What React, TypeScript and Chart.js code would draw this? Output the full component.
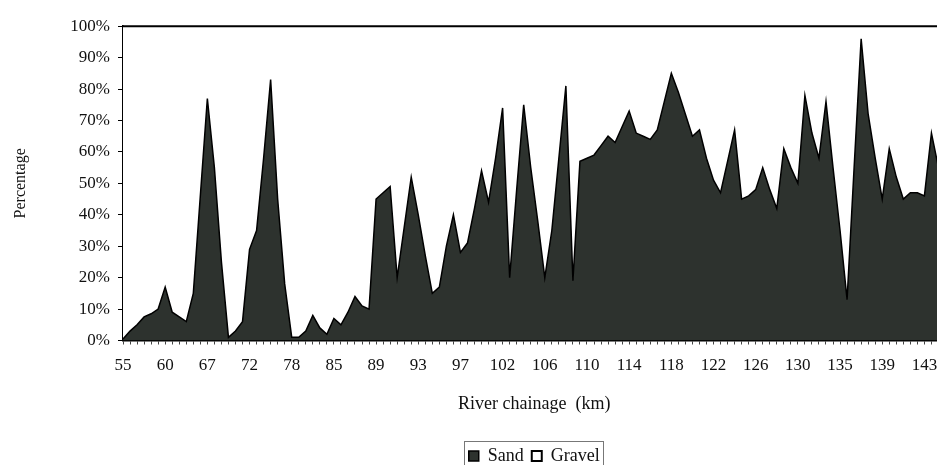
import React, { useEffect, useRef } from "react";
import { Chart, registerables } from "chart.js";

Chart.register(...registerables);

// Chainage labels shown on every 6th category
const chainageTicks = [
  "55", "60", "67", "72", "78", "85", "89", "93", "97", "102",
  "106", "110", "114", "118", "122", "126", "130", "135", "139", "143",
];
const TICK_EVERY = 6;

// Sand percentage for each sampled chainage (category)
const sand = [
  0.5, 3, 5, 7.5, 8.5, 10, 17, 9, 7.5, 6,
  15, 46, 77, 55, 25, 1, 3, 6, 29, 35,
  58, 83, 45, 18, 1, 1, 3, 8, 4, 2,
  7, 5, 9, 14, 11, 10, 45, 47, 49, 20,
  36, 52, 40, 27, 15, 17, 30, 40, 28, 31,
  42, 54, 44, 58, 74, 20, 48, 75, 55, 38,
  20, 35, 58, 81, 19, 57, 58, 59, 62, 65,
  63, 68, 73, 66, 65, 64, 67, 76, 85, 79,
  72, 65, 67, 58, 51, 47, 57, 67, 45, 46,
  48, 55, 48, 42, 61, 55, 50, 78, 66, 58,
  76, 55, 35, 13, 55, 96, 72, 58, 45, 61,
  52, 45, 47, 47, 46, 66, 55, 50,
];
const gravel = sand.map((v) => 100 - v);
const categories = sand.map((_, i) =>
  i % TICK_EVERY === 0 && chainageTicks[i / TICK_EVERY] ? chainageTicks[i / TICK_EVERY] : ""
);

const FONT = "'Liberation Serif', 'Times New Roman', serif";

const legendFrame = {
  id: "legendFrame",
  afterLayout(chart: any) {
    const lg = chart.legend;
    const ca = chart.chartArea;
    if (lg && ca) {
      lg.left = ca.left;
      lg.right = ca.right;
      lg.width = ca.right - ca.left;
    }
  },
  afterDraw(chart: any) {
    const boxes = chart.legend && chart.legend.legendHitBoxes;
    if (!boxes || !boxes.length) return;
    const ctx = chart.ctx;
    let l = Infinity, r = -Infinity, t = Infinity, b = -Infinity;
    boxes.forEach((h: any) => {
      l = Math.min(l, h.left);
      r = Math.max(r, h.left + h.width);
      t = Math.min(t, h.top);
      b = Math.max(b, h.top + h.height);
    });
    ctx.save();
    ctx.strokeStyle = "#777";
    ctx.lineWidth = 1;
    ctx.strokeRect(Math.round(l - 5) + 0.5, Math.round(t - 6) + 0.5, Math.round(r - l + 8), Math.round(b - t + 20));
    ctx.restore();
  },
};

export default function App() {
  const ref = useRef<HTMLCanvasElement | null>(null);

  useEffect(() => {
    if (!ref.current) return;
    const chart = new Chart(ref.current, {
      type: "line",
      data: {
        labels: categories,
        datasets: [
          {
            label: "Sand",
            data: sand,
            backgroundColor: "#2d322e",
            borderColor: "#000",
            borderWidth: 1.5,
            fill: "origin",
            pointRadius: 0,
            tension: 0,
          },
          {
            label: "Gravel",
            data: gravel,
            backgroundColor: "#ffffff",
            borderColor: "#000",
            borderWidth: 2,
            fill: "-1",
            pointRadius: 0,
            tension: 0,
            clip: 4,
          },
        ],
      },
      options: {
        responsive: false,
        animation: false,
        devicePixelRatio: 1,
        layout: { padding: { left: 0, top: 15, right: 122.5, bottom: 0 } },
        plugins: {
          tooltip: { enabled: false },
          legend: {
            position: "bottom",
            labels: {
              color: "#111",
              font: { family: FONT, size: 18 },
              boxWidth: 10,
              boxHeight: 10,
              padding: 8,
            },
          },
        },
        scales: {
          x: {
            type: "category",
            offset: false,
            grid: { display: true, drawOnChartArea: false, drawTicks: true, tickLength: 4, color: "#444" },
            border: { display: true, color: "#000", width: 1.5 },
            ticks: {
              autoSkip: false,
              maxRotation: 0,
              minRotation: 0,
              padding: 11,
              color: "#111",
              font: { family: FONT, size: 17 },
            },
            title: {
              display: true,
              text: "River chainage  (km)",
              color: "#111",
              font: { family: FONT, size: 18 },
              padding: { top: 0, bottom: 24 },
            },
            afterFit: (s: any) => {
              s.height = 98.5;
            },
          },
          y: {
            stacked: true,
            min: 0,
            max: 100,
            grid: { display: true, drawOnChartArea: false, drawTicks: true, tickLength: 5, color: "#000" },
            border: { display: true, color: "#000", width: 1.5 },
            ticks: {
              stepSize: 10,
              padding: 8,
              color: "#111",
              font: { family: FONT, size: 17 },
              callback: (v: any) => v + "%",
            },
            title: {
              display: true,
              text: "Percentage",
              color: "#111",
              font: { family: FONT, size: 16 },
              padding: { top: 3, bottom: 0 },
            },
            afterFit: (s: any) => {
              s.width = 115;
            },
          },
        },
      },
      plugins: [legendFrame],
    });
    return () => chart.destroy();
  }, []);

  return (
    <div style={{ position: "fixed", left: 8, top: 8, width: 929, height: 457, overflow: "hidden", background: "#fff" }}>
      <canvas ref={ref} width={1060} height={467} style={{ display: "block" }} />
    </div>
  );
}
